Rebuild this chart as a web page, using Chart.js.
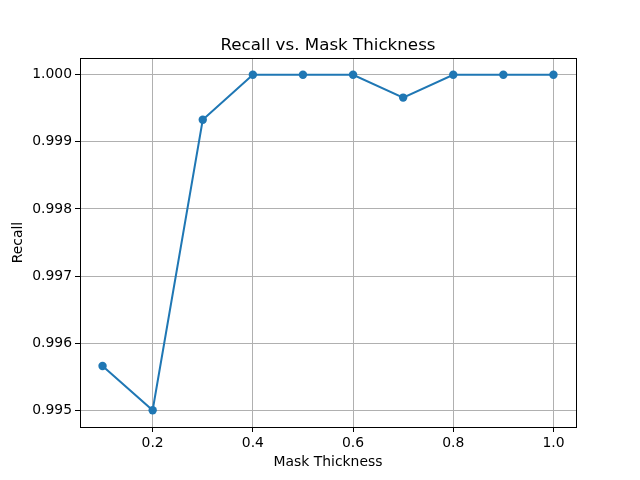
<!DOCTYPE html>
<html>
<head>
<meta charset="utf-8">
<script src="https://cdn.jsdelivr.net/npm/chart.js@4"></script>
<style>
  html, body { margin: 0; padding: 0; background: #fff; }
  canvas { display: block; }
</style>
</head>
<body>
<canvas id="recallChart" width="640" height="480"></canvas>
<script>
// Recall per mask thickness
const thickness = [0.1, 0.2, 0.3, 0.4, 0.5, 0.6, 0.7, 0.8, 0.9, 1.0];
const recall = [0.99566, 0.99500, 0.99933, 1.00000, 1.00000, 1.00000, 0.99966, 1.00000, 1.00000, 1.00000];
const xTicks = [0.2, 0.4, 0.6, 0.8, 1.0];
const yTicks = [0.995, 0.996, 0.997, 0.998, 0.999, 1.000];

const FONT = 'DejaVu Sans';
const BLUE = '#1f77b4';

// title + full axes box, the way matplotlib draws them
const framePlugin = {
    id: 'frame',
    afterDraw(chart) {
        const { ctx, chartArea: a } = chart;
        ctx.save();
        ctx.strokeStyle = '#000';
        ctx.lineWidth = 1;
        ctx.strokeRect(Math.round(a.left) + 0.5, Math.round(a.top) + 0.5,
                       Math.round(a.right - a.left), Math.round(a.bottom - a.top));
        ctx.fillStyle = '#000';
        ctx.font = '16.7px "' + FONT + '"';
        ctx.textAlign = 'center';
        ctx.textBaseline = 'alphabetic';
        ctx.fillText('Recall vs. Mask Thickness', (a.left + a.right) / 2, a.top - 8);
        ctx.restore();
    }
};

const ctx = document.getElementById('recallChart').getContext('2d');
new Chart(ctx, {
    type: 'line',
    data: {
        datasets: [{
            label: 'Recall',
            data: thickness.map((t, i) => ({ x: t, y: recall[i] })),
            borderColor: BLUE,
            backgroundColor: BLUE,
            borderWidth: 2,
            pointRadius: 4.2,
            pointHoverRadius: 4.2,
            pointBorderWidth: 0,
            tension: 0,
            fill: false
        }]
    },
    options: {
        responsive: false,
        animation: false,
        devicePixelRatio: 1,
        layout: { padding: { top: 58, right: 64, bottom: 0, left: 0 } },
        plugins: {
            legend: { display: false },
            title: { display: false },
            tooltip: { enabled: false }
        },
        scales: {
            x: {
                type: 'linear',
                min: 0.055,
                max: 1.045,
                afterBuildTicks(scale) { scale.ticks = xTicks.map(v => ({ value: v })); },
                afterFit(scale) { scale.height = 53; },
                border: { display: false },
                grid: { color: '#b0b0b0', lineWidth: 1, tickColor: '#000', tickLength: 5 },
                ticks: {
                    color: '#000',
                    padding: 3,
                    font: { family: FONT, size: 13.9 },
                    maxRotation: 0,
                    callback: v => v.toFixed(1)
                },
                title: {
                    display: true,
                    text: 'Mask Thickness',
                    color: '#000',
                    font: { family: FONT, size: 13.9 },
                    padding: { top: 2, bottom: 9 }
                }
            },
            y: {
                type: 'linear',
                min: 0.99475,
                max: 1.00025,
                afterBuildTicks(scale) { scale.ticks = yTicks.map(v => ({ value: v })); },
                afterFit(scale) { scale.width = 80; },
                border: { display: false },
                grid: { color: '#b0b0b0', lineWidth: 1, tickColor: '#000', tickLength: 5 },
                ticks: {
                    color: '#000',
                    padding: 3,
                    font: { family: FONT, size: 13.9 },
                    callback: v => v.toFixed(3)
                },
                title: {
                    display: true,
                    text: 'Recall',
                    color: '#000',
                    font: { family: FONT, size: 13.9 },
                    padding: { top: 10, bottom: 4 }
                }
            }
        }
    },
    plugins: [framePlugin]
});
</script>
</body>
</html>
